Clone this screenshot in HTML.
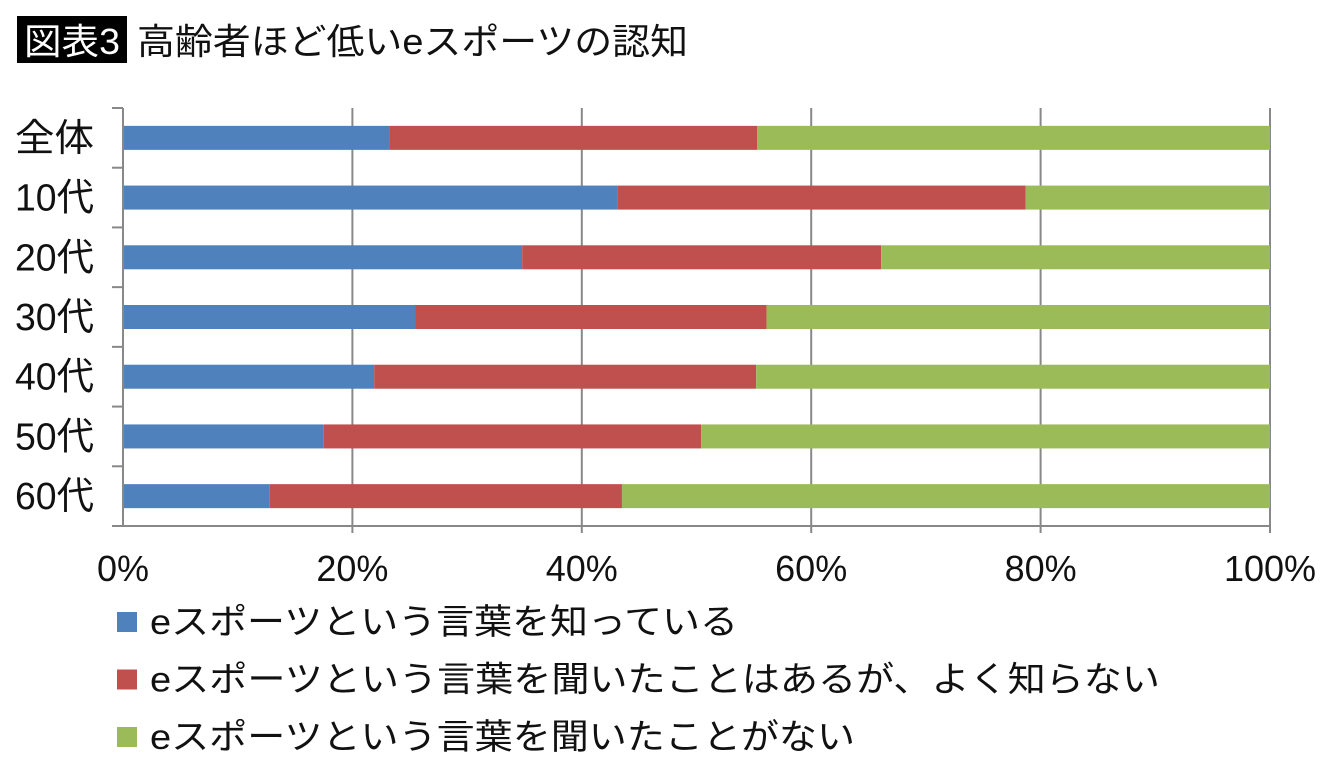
<!DOCTYPE html>
<html><head><meta charset="utf-8">
<style>
body{margin:0;background:#fff;width:1340px;height:779px;overflow:hidden;font-family:"Liberation Sans","Noto Sans CJK JP",sans-serif;}
svg text{font-family:"Liberation Sans","Noto Sans CJK JP",sans-serif;}
</style></head><body>
<svg id="chart" width="1340" height="779">
<rect x="17" y="16" width="110" height="47" fill="#000"/>
<text x="24" y="54" font-size="36" fill="#fff" textLength="96" lengthAdjust="spacingAndGlyphs">図表3</text>
<text x="137" y="54" font-size="36" fill="#111" textLength="551" lengthAdjust="spacingAndGlyphs">高齢者ほど低いeスポーツの認知</text>
<g id="grid"></g>
<g id="bars"></g>
<g id="axes"></g>
<g id="legend"></g>
</svg>
<script>
const categories=["全体","10代","20代","30代","40代","50代","60代"];
const knows=[23.2,43.1,34.8,25.5,21.9,17.5,12.8];
const heardOnly=[32.1,35.6,31.3,30.6,33.3,32.9,30.7];
const neverHeard=[44.7,21.3,33.9,43.9,44.8,49.6,56.5];
const tickLabels=["0%","20%","40%","60%","80%","100%"];
const tickValues=[0,20,40,60,80,100];
const seriesNames=["eスポーツという言葉を知っている","eスポーツという言葉を聞いたことはあるが、よく知らない","eスポーツという言葉を聞いたことがない"];
const legendWidths=[588,1010,705];
const colors=["#4f81bd","#c0504d","#9bbb59"];
const NS="http://www.w3.org/2000/svg";
const X0=123,X1=1270,Y0=108,Y1=526;
const band=(Y1-Y0)/categories.length;
function xs(v){return X0+(X1-X0)*v/100;}
function mk(tag,attrs,parent){const e=document.createElementNS(NS,tag);for(const k in attrs)e.setAttribute(k,attrs[k]);parent.appendChild(e);return e;}
const grid=document.getElementById('grid'),bars=document.getElementById('bars'),axes=document.getElementById('axes'),legend=document.getElementById('legend');
tickValues.forEach((v,i)=>{
  if(v>0){const g=mk('line',{x1:xs(v),x2:xs(v),y1:Y0,y2:Y1+7,stroke:'#888','stroke-width':2},grid);
  
  }
  const t=mk('text',{x:xs(v),y:581,'font-size':36,'text-anchor':'middle',fill:'#111'},axes);
  t.textContent=tickLabels[i];
  
  
});
const series=[knows,heardOnly,neverHeard];
categories.forEach((c,i)=>{
  const yc=Y0+band*(i+0.5);
  let acc=0;
  series.forEach((s,j)=>{
    const r=mk('rect',{x:xs(acc),y:yc-12,width:xs(acc+s[i])-xs(acc),height:24,fill:colors[j]},bars);
    
    
    acc+=s[i];
  });
  const t=mk('text',{x:15,y:yc+13,'font-size':38,fill:'#111',textLength:79,lengthAdjust:'spacingAndGlyphs'},axes);
  t.textContent=c;
  
  
});
const ax=mk('line',{x1:X0,x2:X0,y1:Y0,y2:Y1,stroke:'#888','stroke-width':2},axes);


const bx=mk('line',{x1:X0,x2:X1,y1:Y1,y2:Y1,stroke:'#888','stroke-width':2},axes);


for(let i=0;i<=categories.length;i++){
  const y=Y0+band*i;
  const tk=mk('line',{x1:112,x2:X0,y1:y,y2:y,stroke:'#888','stroke-width':2},axes);
  
  
}
seriesNames.forEach((n,j)=>{
  const y=622+j*57.5;
  const s=mk('rect',{x:117,y:y-10,width:20,height:20,fill:colors[j]},legend);
  
  
  const t=mk('text',{x:150,y:y+12,'font-size':35,fill:'#111',textLength:legendWidths[j],lengthAdjust:'spacingAndGlyphs'},legend);
  t.textContent=n;
  
  
});
</script>
</body></html>
